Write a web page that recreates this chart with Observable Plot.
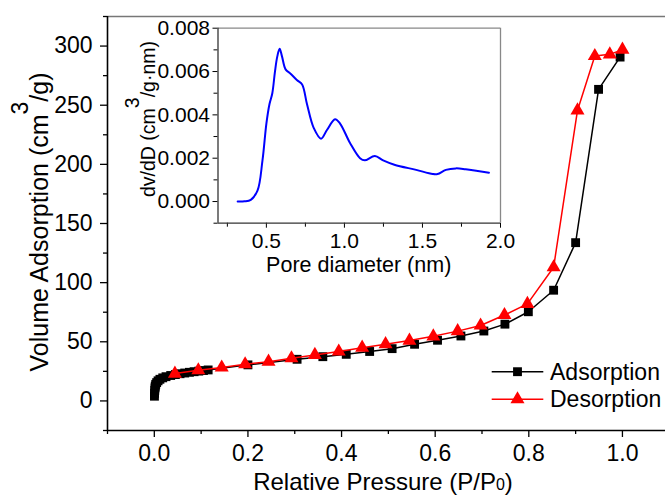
<!DOCTYPE html>
<html><head><meta charset="utf-8">
<script src="https://cdn.jsdelivr.net/npm/d3@7"></script>
<script src="https://cdn.jsdelivr.net/npm/@observablehq/plot@0.6"></script>
<style>
html,body{margin:0;padding:0;background:#fff;overflow:hidden}
#wrap{position:relative;width:665px;height:495px}
#wrap svg{position:absolute;left:0;top:0}
</style></head><body><div id="wrap"></div>
<script>
// Main isotherm data (P/P0, volume cm3/g)
const adsP = [0.0003,0.0006,0.001,0.0015,0.002,0.003,0.005,0.008,0.012,0.018,0.025,0.035,0.045,0.055,0.065,0.075,0.085,0.095,0.105,0.115,0.2,0.305,0.36,0.41,0.46,0.508,0.556,0.605,0.655,0.704,0.749,0.799,0.853,0.9,0.949,0.995];
const adsV = [4,6.5,9,11,12.5,14,15.5,17,18.3,19.5,20.5,21.5,22.3,23,23.6,24.2,24.7,25.2,25.7,26.2,30.5,35.2,37.4,39.4,41.8,44.2,47.9,51.3,54.9,59.1,64.9,75.4,93.6,133.8,263.4,290.7];
const desP = [0.044,0.094,0.144,0.194,0.244,0.293,0.343,0.394,0.444,0.494,0.545,0.596,0.648,0.697,0.748,0.797,0.853,0.904,0.941,0.973,1.0];
const desV = [23.1,25.9,28.2,31,33.2,36.1,38.9,41.8,45.0,48.0,51.0,54.6,59.0,63.8,72.6,82,113,245.6,291.6,293,297];
// Inset pore size distribution
const poreD = [0.316,0.36,0.40,0.443,0.475,0.50,0.52,0.538,0.555,0.57,0.585,0.60,0.623,0.655,0.697,0.729,0.76,0.803,0.85,0.888,0.94,0.972,1.036,1.1,1.13,1.195,1.248,1.32,1.46,1.566,1.597,1.65,1.714,1.777,1.926];
const poreDv = [0,0.00001,0.00008,0.0005,0.0019,0.0036,0.0045,0.005,0.006,0.0067,0.00705,0.0067,0.0061,0.0059,0.0056,0.0054,0.0045,0.0034,0.0029,0.0033,0.0038,0.0036,0.0027,0.0020,0.0019,0.0021,0.0019,0.0017,0.00146,0.00127,0.00127,0.00146,0.00153,0.00149,0.00133];
// ticks
const xTicks = [0,0.2,0.4,0.6,0.8,1.0];
const xMinor = [-0.1,0.1,0.3,0.5,0.7,0.9];
const yTicks = [0,50,100,150,200,250,300];
const yMinor = [-25,25,75,125,175,225,275,325];
const ixTicks = [0.5,1.0,1.5,2.0];
const ixMinor = [0.25,0.75,1.25,1.75];
const iyTicks = [0,0.002,0.004,0.006,0.008];
const iyMinor = [-0.001,0.001,0.003,0.005,0.007];
const seriesNames = ["Adsorption","Desorption"];

const ads = adsP.map((p,i)=>({p, v: adsV[i]}));
const des = desP.map((p,i)=>({p, v: desV[i]}));
const pore = poreD.map((d,i)=>({d, v: poreDv[i]}));
const font = "'Liberation Sans', Arial, sans-serif";
const XD = [-0.1, 1.092], YD = [-25, 325];

const main = Plot.plot({
  width: 665, height: 495,
  marginLeft: 107, marginRight: 0, marginTop: 16, marginBottom: 65,
  style: {fontFamily: font, fontSize: "23px", color: "#000", background: "transparent", overflow: "visible"},
  x: {domain: XD},
  y: {domain: YD},
  marks: [
    Plot.axisX({ticks: xMinor, tickSize: 4, tickFormat: () => "", label: null, strokeWidth: 1.3}),
    Plot.axisX({ticks: xTicks, tickSize: 7, tickPadding: 7, tickFormat: d3.format(".1f"), label: null, strokeWidth: 1.3}),
    Plot.axisY({ticks: yMinor, tickSize: 4, tickFormat: () => "", label: null, strokeWidth: 1.3}),
    Plot.axisY({ticks: yTicks, tickSize: 7, tickPadding: 8, label: null, strokeWidth: 1.3}),
    Plot.ruleY([YD[1]], {stroke: "#777", strokeWidth: 1.5}),
    Plot.ruleX([XD[0]], {stroke: "#000", strokeWidth: 1.6}),
    Plot.ruleY([YD[0]], {stroke: "#000", strokeWidth: 1.6}),
    Plot.line(ads, {x: "p", y: "v", stroke: "#000", strokeWidth: 1.5}),
    Plot.dot(ads, {x: "p", y: "v", symbol: "square", r: 5, fill: "#000", stroke: "none"}),
    Plot.line(des, {x: "p", y: "v", stroke: "#ff0000", strokeWidth: 1.5}),
    Plot.dot(des, {x: "p", y: "v", symbol: "triangle", r: 5.2, fill: "#ff0000", stroke: "none"})
  ]
});

const inset = Plot.plot({
  width: 665, height: 300,
  marginLeft: 217.5, marginRight: 165, marginTop: 27.7, marginBottom: 77.3,
  style: {fontFamily: font, fontSize: "21px", color: "#000", background: "transparent", overflow: "visible"},
  x: {domain: [0.19, 2.0]},
  y: {domain: [-0.001, 0.008]},
  marks: [
    Plot.axisX({ticks: ixMinor, tickSize: 4, tickFormat: () => "", label: null}),
    Plot.axisX({ticks: ixTicks, tickSize: 5, tickPadding: 5, tickFormat: d3.format(".1f"), label: null}),
    Plot.axisY({ticks: iyMinor, tickSize: 4, tickFormat: () => "", label: null}),
    Plot.axisY({ticks: iyTicks, tickSize: 5, tickPadding: 3, tickFormat: d3.format(".3f"), label: null}),
    Plot.ruleY([0.008], {stroke: "#888", strokeWidth: 1.3}),
    Plot.ruleX([2.0], {stroke: "#888", strokeWidth: 1.3}),
    Plot.ruleX([0.19], {stroke: "#333", strokeWidth: 1.3}),
    Plot.ruleY([-0.001], {stroke: "#333", strokeWidth: 1.3}),
    Plot.line(pore, {x: "d", y: "v", stroke: "#0000ff", strokeWidth: 2, curve: "catmull-rom"})
  ]
});

const wrap = document.getElementById("wrap");
wrap.appendChild(main);
wrap.appendChild(inset);

const svg = d3.select(main);
// x label
const xl = svg.append("text").attr("x", 383).attr("y", 490).attr("text-anchor", "middle")
  .attr("font-family", font).attr("font-size", 24).attr("fill", "#000");
xl.append("tspan").text("Relative Pressure (P/P");
xl.append("tspan").attr("font-size", 16).text("0");
xl.append("tspan").text(")");
// y label
const yl = svg.append("text").attr("transform", "translate(48,222) rotate(-90)").attr("text-anchor", "middle")
  .attr("font-family", font).attr("font-size", 25).attr("fill", "#000");
yl.append("tspan").text("Volume Adsorption (cm");
yl.append("tspan").attr("dy", -20).attr("font-size", 23).text("3");
yl.append("tspan").attr("dy", 20).text("/g)");

// legend
const sym = [d3.symbolSquare, d3.symbolTriangle];
const cols = ["#000", "#ff0000"];
const radii = [5, 5.2];
seriesNames.forEach((name, i) => {
  const y = 371.7 + i * 27.6;
  const g = svg.append("g");
  g.append("line").attr("x1", 491.7).attr("x2", 543.3).attr("y1", y).attr("y2", y)
    .attr("stroke", cols[i]).attr("stroke-width", 1.5);
  g.append("path").attr("d", d3.symbol(sym[i], radii[i] * radii[i] * Math.PI)())
    .attr("transform", `translate(517.5,${y})`).attr("fill", cols[i]);
  g.append("text").attr("x", 550).attr("y", y + 7.8).attr("text-anchor", "start").attr("font-family", font)
    .attr("font-size", 23).attr("fill", "#000").text(name);
});

// inset labels
const isvg = d3.select(inset);
isvg.append("text").attr("x", 358.7).attr("y", 272).attr("text-anchor", "middle")
  .attr("font-family", font).attr("font-size", 21.5).attr("fill", "#000").text("Pore diameter (nm)");
const iyl = isvg.append("text").attr("transform", "translate(155,119) rotate(-90)").attr("text-anchor", "middle")
  .attr("font-family", font).attr("font-size", 19.5).attr("fill", "#000");
iyl.append("tspan").text("dv/dD (cm");
iyl.append("tspan").attr("dy", -16).text("3");
iyl.append("tspan").attr("dy", 16).text("/g\u00b7nm)");
</script>
</body></html>
